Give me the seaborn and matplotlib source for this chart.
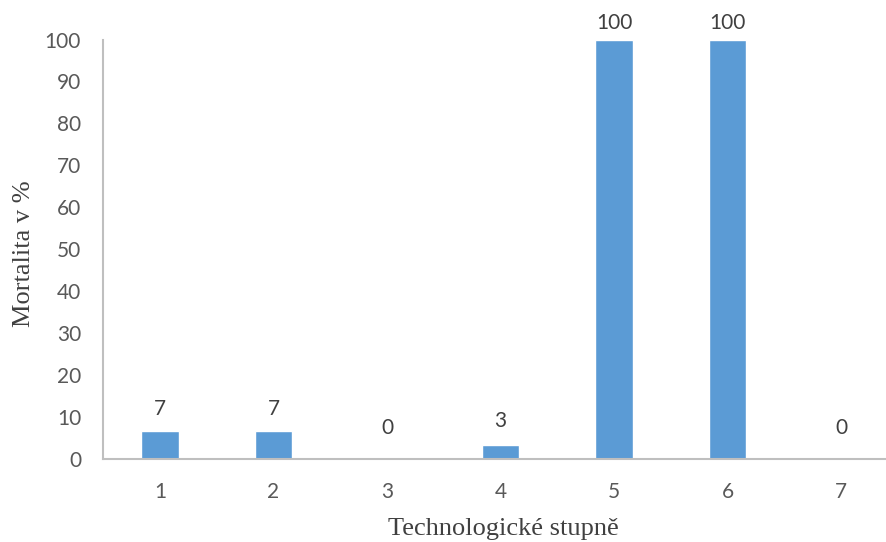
import matplotlib
matplotlib.use("Agg")
import matplotlib.pyplot as plt
import seaborn as sns
import pandas as pd

# Mortality per technological stage
stages = ["1", "2", "3", "4", "5", "6", "7"]
mortality = [6.67, 6.67, 0, 3.33, 100, 100, 0]
y_ticks = [0, 10, 20, 30, 40, 50, 60, 70, 80, 90, 100]

# gap (points) between each bar top and its value label
label_gap = [8, 8, 15, 10, 4.5, 4.5, 15]

df = pd.DataFrame({"stupen": stages, "mortalita": mortality})

sns.set_theme(style="white")
plt.rcParams["font.family"] = ["Lato", "DejaVu Sans"]

W, H = 886, 542
fig = plt.figure(figsize=(W / 100, H / 100), dpi=100)
ax = fig.add_axes([0.1166, 0.154, 0.8967, 0.773])

sns.barplot(data=df, x="stupen", y="mortalita", order=stages,
            color="#5B9BD5", saturation=1, width=0.33, ax=ax)

ax.set_xlim(-0.5, len(stages) - 0.5)
ax.set_ylim(0, 100)
ax.set_yticks(y_ticks)
ax.tick_params(axis="both", length=0, labelsize=15, colors="#595959")
ax.tick_params(axis="y", pad=16)
ax.tick_params(axis="x", pad=17)

# value labels above the bars
for patch, val, gap in zip(ax.patches, mortality, label_gap):
    ax.annotate(f"{val:.0f}",
                xy=(patch.get_x() + patch.get_width() / 2, patch.get_height()),
                xytext=(0, gap), textcoords="offset points",
                ha="center", va="bottom", fontsize=15, color="#404040",
                annotation_clip=False)

for side in ("top", "right"):
    ax.spines[side].set_visible(False)
for side in ("left", "bottom"):
    ax.spines[side].set_color("#BFBFBF")
    ax.spines[side].set_linewidth(1.5)

ax.set_xlabel("")
ax.set_ylabel("")
serif = ["Liberation Serif", "DejaVu Serif"]
fig.text(503 / W, 1 - 535.5 / H, "Technologické stupně", fontsize=19,
         color="#404040", family=serif, ha="center", va="baseline")
fig.text(24 / W, 1 - 253.5 / H, "Mortalita v %", fontsize=19,
         color="#404040", family=serif, ha="center", va="center",
         rotation=90)

fig.savefig("out.png", dpi=100)
